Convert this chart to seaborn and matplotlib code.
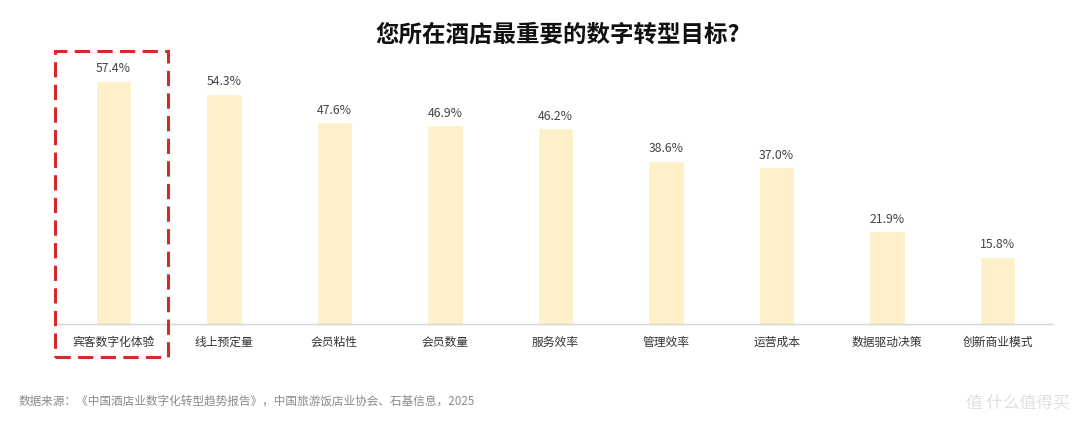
import matplotlib.pyplot as plt
import matplotlib.patches as patches
import pandas as pd
import seaborn as sns

categories = ['宾客数字化体验', '线上预定量', '会员粘性', '会员数量', '服务效率',
              '管理效率', '运营成本', '数据驱动决策', '创新商业模式']
values = [57.4, 54.3, 47.6, 46.9, 46.2, 38.6, 37.0, 21.9, 15.8]
title = '您所在酒店最重要的数字转型目标?'
source = '数据来源：《中国酒店业数字化转型趋势报告》，中国旅游饭店业协会、石基信息，2025'

df = pd.DataFrame({'goal': categories, 'pct': values})

sns.set_style("white")
plt.rcParams['font.family'] = ['Noto Sans CJK SC', 'DejaVu Sans']

fig = plt.figure(figsize=(10.8, 4.27), dpi=100)
ax = fig.add_axes([0.0537, 0.2389, 0.9213, 0.6206])

sns.barplot(data=df, x='goal', y='pct', color='#FDF0C8', width=0.32,
            saturation=1, ax=ax)

for i, v in enumerate(values):
    ax.text(i, v + 1.6, f'{v}%', ha='center', va='bottom', fontsize=8.8, color='#444444')

ax.set_ylim(0, 62.6)
ax.set_xlim(-0.5, len(categories) - 0.5)
ax.set_yticks([])
ax.set_xlabel('')
ax.set_ylabel('')
for s in ['top', 'right', 'left']:
    ax.spines[s].set_visible(False)
ax.spines['bottom'].set_color('#D5D5D5')
ax.spines['bottom'].set_linewidth(1)
ax.tick_params(axis='x', length=0, pad=8, labelsize=8.5, labelcolor='#333333')

fig.text(0.516, 0.918, title, ha='center', va='center', fontsize=16.9,
         fontweight='bold', color='#111111')
fig.text(0.017, 0.06, source, ha='left', va='center', fontsize=8.4, color='#8A8A8A')
fig.text(0.99, 0.055, '值 什么值得买', ha='right', va='center', fontsize=12,
         color='#E0E0E0')

# highlight box around first category
box = patches.Rectangle((55 / 1080, 1 - 358 / 427), 113 / 1080, 306 / 427,
                        transform=fig.transFigure, fill=False, edgecolor='#D42A2A',
                        linewidth=2.2, linestyle=(0, (5, 2.4)))
fig.patches.append(box)

fig.savefig('out.png', dpi=100)
